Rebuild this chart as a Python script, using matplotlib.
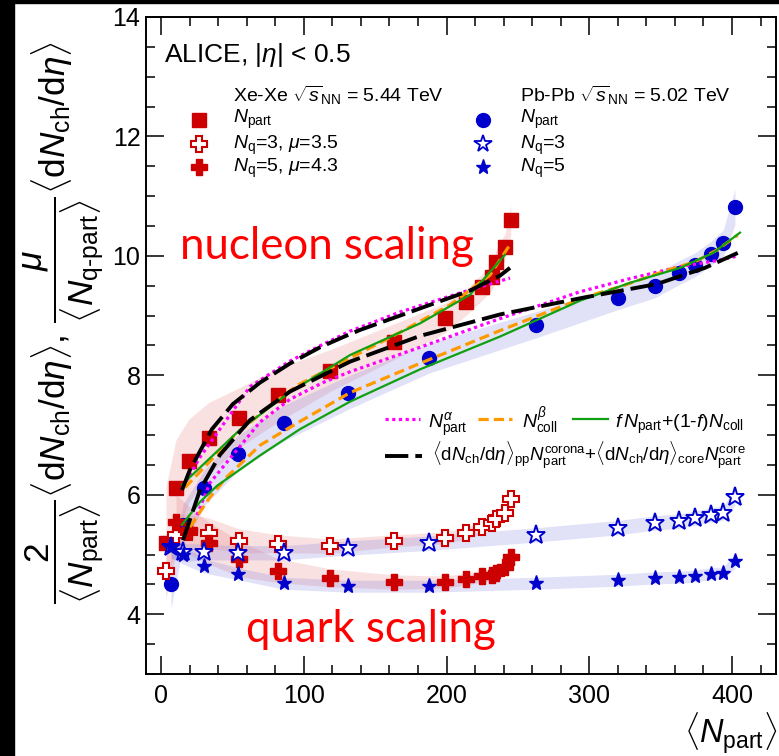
import matplotlib
matplotlib.use("Agg")
import matplotlib.pyplot as plt
from matplotlib.patches import Rectangle
from matplotlib.ticker import MultipleLocator

plt.rcParams['font.family'] = ['Liberation Sans', 'DejaVu Sans']
plt.rcParams['mathtext.fontset'] = 'custom'
plt.rcParams['mathtext.rm'] = 'Liberation Sans'
plt.rcParams['mathtext.it'] = 'Liberation Sans:italic'
plt.rcParams['mathtext.bf'] = 'Liberation Sans:bold'
plt.rcParams['mathtext.fallback'] = 'cm'

# ---------------- data ----------------
xe_npart = [3.5, 10.5, 19.6, 33.6, 54.6, 82, 118.5, 163, 199, 214, 225, 232, 235, 241, 245]
xe_nucl = [5.19, 6.12, 6.57, 6.95, 7.29, 7.67, 8.08, 8.56, 8.96, 9.23, 9.48, 9.65, 9.90, 10.15, 10.6]
xe_nucl_err = [0.95, 0.8, 0.7, 0.6, 0.5, 0.45, 0.35, 0.3, 0.25, 0.22, 0.22, 0.22, 0.22, 0.22, 0.25]
xe_q3 = [4.73, 5.33, 5.38, 5.36, 5.23, 5.18, 5.14, 5.23, 5.28, 5.36, 5.46, 5.53, 5.60, 5.70, 5.93]
xe_q3_err = [0.4, 0.35, 0.3, 0.25, 0.2, 0.15, 0.12, 0.1, 0.1, 0.1, 0.1, 0.1, 0.1, 0.1, 0.12]
xe_q5_npart = [10.5, 19.6, 33.6, 54.6, 82, 118.5, 163, 199, 214, 225, 232, 235, 241, 245]
xe_q5 = [5.55, 5.41, 5.19, 4.93, 4.73, 4.61, 4.54, 4.54, 4.59, 4.64, 4.66, 4.69, 4.79, 4.96]
xe_q5_err = [0.45, 0.4, 0.35, 0.3, 0.2, 0.15, 0.12, 0.1, 0.1, 0.1, 0.1, 0.1, 0.1, 0.12]

pb_npart = [7.0, 15.6, 30.4, 53.6, 86.0, 131, 188, 263, 320, 346, 363, 374, 385, 394, 402]
pb_nucl = [4.50, 5.50, 6.12, 6.69, 7.20, 7.71, 8.29, 8.85, 9.30, 9.50, 9.72, 9.85, 10.04, 10.22, 10.82]
pb_nucl_err = [0.4, 0.35, 0.3, 0.3, 0.3, 0.28, 0.25, 0.22, 0.2, 0.2, 0.2, 0.2, 0.2, 0.22, 0.3]
pb_q3 = [5.13, 5.04, 5.04, 5.03, 5.03, 5.11, 5.19, 5.33, 5.45, 5.53, 5.56, 5.61, 5.66, 5.70, 5.96]
pb_q3_err = [0.2, 0.15, 0.13, 0.12, 0.12, 0.12, 0.12, 0.12, 0.12, 0.12, 0.12, 0.12, 0.12, 0.12, 0.14]
pb_q5 = [5.15, 4.99, 4.81, 4.68, 4.52, 4.47, 4.47, 4.52, 4.57, 4.61, 4.62, 4.64, 4.68, 4.69, 4.89]
pb_q5_err = [0.2, 0.15, 0.12, 0.1, 0.1, 0.1, 0.1, 0.1, 0.1, 0.1, 0.1, 0.1, 0.1, 0.1, 0.12]

# model curves
xe_alpha_x = [15.4, 27.3, 62.3, 90.4, 113.5, 132.4, 167.4, 209.5, 244.5]
xe_alpha_y = [6.13, 6.63, 7.81, 8.24, 8.52, 8.74, 9.06, 9.38, 9.63]
xe_beta_x = [16.8, 50.4, 74.3, 95.3, 116.3, 132.4, 167.4, 202.5, 230.5, 244.5]
xe_beta_y = [6.12, 6.97, 7.45, 7.83, 8.09, 8.29, 8.72, 9.18, 9.68, 10.19]
xe_glau_x = [14.7, 55.3, 90.4, 132.4, 181.4, 216.5, 241.0]
xe_glau_y = [6.17, 7.09, 7.72, 8.34, 8.87, 9.35, 10.02]
xe_core_x = [14.7, 20.3, 35.7, 50.4, 69.4, 90.4, 111.4, 127.5, 139.4, 181.4, 216.5, 237.5, 244.5]
xe_core_y = [6.08, 6.42, 7.10, 7.52, 7.88, 8.20, 8.47, 8.64, 8.76, 9.12, 9.42, 9.67, 9.80]

pb_alpha_x = [25.2, 34.3, 53.2, 69.4, 90.4, 113.5, 132.4, 181.4, 237.5, 293.5, 328.5, 363.6, 391.6, 404.0]
pb_alpha_y = [5.66, 6.20, 6.75, 7.22, 7.60, 7.88, 8.06, 8.47, 8.95, 9.40, 9.62, 9.82, 9.93, 10.0]
pb_beta_x = [20.3, 34.3, 46.2, 69.4, 95.3, 113.5, 132.4, 181.4, 237.5, 298.4, 323.6, 354.5, 374.0, 389.5, 404.0]
pb_beta_y = [5.46, 5.96, 6.30, 6.83, 7.20, 7.45, 7.71, 8.20, 8.75, 9.32, 9.50, 9.76, 9.90, 10.10, 10.35]
pb_glau_x = [14.7, 27.3, 39.2, 69.4, 97.4, 132.4, 181.4, 237.5, 293.5, 328.5, 363.6, 386.7, 405.6]
pb_glau_y = [5.50, 5.88, 6.15, 6.66, 7.10, 7.56, 8.10, 8.65, 9.25, 9.55, 9.80, 10.05, 10.39]
pb_core_x = [15.4, 27.3, 41.3, 62.3, 90.4, 132.4, 181.4, 237.5, 295.6, 347.5, 381.0, 404.0]
pb_core_y = [5.24, 6.08, 6.67, 7.25, 7.73, 8.23, 8.66, 9.02, 9.30, 9.53, 9.80, 10.05]

# ---------------- styling ----------------
RED = '#cc0000'
BLUE = '#0000cc'
PINK_BAND = dict(color='#e87878', alpha=0.22, lw=0)
BLUE_BAND = dict(color='#7878e0', alpha=0.22, lw=0)
MAG = dict(color='#ff00ff', lw=2.3, ls=(0, (1, 1.1)), zorder=5)
ORA = dict(color='#ff9900', lw=2.3, ls=(0, (3.2, 1.6)), zorder=5)
GRN = dict(color='#10a010', lw=1.6, ls='-', zorder=5)
BLK = dict(color='black', lw=2.8, ls=(0, (6, 1.8)), zorder=6)

fig = plt.figure(figsize=(7.79, 7.56), dpi=100)
fig.patches.append(Rectangle((0, 0), 14 / 779, 1, transform=fig.transFigure, color='black', zorder=-10))
fig.patches.append(Rectangle((0, 1 - 3 / 756), 1, 3 / 756, transform=fig.transFigure, color='black', zorder=-10))

ax = fig.add_axes([146 / 779, 82 / 756, 630 / 779, 657 / 756])
ax.set_xlim(-10.5, 430.8)
ax.set_ylim(3, 14)


def band(x, y, e, style):
    lo = [a - b for a, b in zip(y, e)]
    hi = [a + b for a, b in zip(y, e)]
    ax.fill_between(x, lo, hi, zorder=1, **style)


band(xe_npart, xe_nucl, xe_nucl_err, PINK_BAND)
band(pb_npart, pb_nucl, pb_nucl_err, BLUE_BAND)
band(xe_npart, xe_q3, xe_q3_err, PINK_BAND)
band(xe_q5_npart, xe_q5, xe_q5_err, PINK_BAND)
band(pb_npart, pb_q3, pb_q3_err, BLUE_BAND)
band(pb_npart, pb_q5, pb_q5_err, BLUE_BAND)

# markers
ax.plot(xe_npart, xe_nucl, 's', color=RED, ms=10, mec=RED, zorder=4, ls='none')
ax.plot(pb_npart, pb_nucl, 'o', color=BLUE, ms=10, zorder=4, ls='none')
ax.plot(xe_npart, xe_q3, 'P', mfc='white', mec=RED, mew=1.5, ms=12, zorder=4, ls='none')
ax.plot(xe_q5_npart, xe_q5, 'P', color=RED, ms=11, zorder=4, ls='none')
ax.plot(pb_npart, pb_q3, '*', mfc='white', mec=BLUE, mew=1.4, ms=14, zorder=4, ls='none')
ax.plot(pb_npart, pb_q5, '*', color=BLUE, ms=11, zorder=4, ls='none')

# curves
ax.plot(xe_alpha_x, xe_alpha_y, **MAG)
ax.plot(pb_alpha_x, pb_alpha_y, **MAG)
ax.plot(xe_beta_x, xe_beta_y, **ORA)
ax.plot(pb_beta_x, pb_beta_y, **ORA)
ax.plot(xe_glau_x, xe_glau_y, **GRN)
ax.plot(pb_glau_x, pb_glau_y, **GRN)
ax.plot(xe_core_x, xe_core_y, **BLK)
ax.plot(pb_core_x, pb_core_y, **BLK)

# axes / ticks
ax.xaxis.set_major_locator(MultipleLocator(100))
ax.xaxis.set_minor_locator(MultipleLocator(20))
ax.yaxis.set_major_locator(MultipleLocator(2))
ax.yaxis.set_minor_locator(MultipleLocator(0.5))
ax.tick_params(which='both', direction='in', top=True, right=True, width=1.1, labelsize=18)
ax.tick_params(which='major', length=13)
ax.tick_params(which='minor', length=6.5)
ax.tick_params(axis='x', pad=7)
ax.tick_params(axis='y', pad=4)
for s in ax.spines.values():
    s.set_linewidth(1.4)

# texts
ax.text(0.0286, 0.9315, r'ALICE, $|\eta|$ < 0.5', transform=ax.transAxes, fontsize=19, va='baseline')
ax.text(0.138, 0.8706, r'Xe-Xe $\sqrt{s}_{\mathrm{NN}}$ = 5.44 TeV', transform=ax.transAxes, fontsize=14, va='baseline')
ax.text(0.5937, 0.8706, r'Pb-Pb $\sqrt{s}_{\mathrm{NN}}$ = 5.02 TeV', transform=ax.transAxes, fontsize=14, va='baseline')

rows_m = [0.8432, 0.8067, 0.7717]
rows_t = [0.8387, 0.7991, 0.7641]
ax.plot([0.0841], [rows_m[0]], 's', color=RED, ms=9.5, transform=ax.transAxes, clip_on=False)
ax.plot([0.0841], [rows_m[1]], 'P', mfc='white', mec=RED, mew=1.5, ms=11, transform=ax.transAxes, clip_on=False)
ax.plot([0.0841], [rows_m[2]], 'P', color=RED, ms=11, transform=ax.transAxes, clip_on=False)
ax.plot([0.535], [rows_m[0]], 'o', color=BLUE, ms=10, transform=ax.transAxes, clip_on=False)
ax.plot([0.535], [rows_m[1]], '*', mfc='white', mec=BLUE, mew=1.3, ms=13, transform=ax.transAxes, clip_on=False)
ax.plot([0.535], [rows_m[2]], '*', color=BLUE, ms=11, transform=ax.transAxes, clip_on=False)
ax.text(0.138, rows_t[0], r'$N_{\mathrm{part}}$', transform=ax.transAxes, fontsize=14, va='baseline')
ax.text(0.138, rows_t[1], r'$N_{\mathrm{q}}$=3, $\mu$=3.5', transform=ax.transAxes, fontsize=14, va='baseline')
ax.text(0.138, rows_t[2], r'$N_{\mathrm{q}}$=5, $\mu$=4.3', transform=ax.transAxes, fontsize=14, va='baseline')
ax.text(0.5937, rows_t[0], r'$N_{\mathrm{part}}$', transform=ax.transAxes, fontsize=14, va='baseline')
ax.text(0.5937, rows_t[1], r'$N_{\mathrm{q}}$=3', transform=ax.transAxes, fontsize=14, va='baseline')
ax.text(0.5937, rows_t[2], r'$N_{\mathrm{q}}$=5', transform=ax.transAxes, fontsize=14, va='baseline')

# model legend
ax.plot([0.379, 0.435], [0.388, 0.388], transform=ax.transAxes, **MAG)
ax.plot([0.527, 0.581], [0.388, 0.388], transform=ax.transAxes, **ORA)
ax.plot([0.678, 0.733], [0.388, 0.388], transform=ax.transAxes, **GRN)
ax.plot([0.379, 0.438], [0.332, 0.332], transform=ax.transAxes, **BLK)
ax.text(0.4476, 0.3744, r'$N_{\mathrm{part}}^{\alpha}$', transform=ax.transAxes, fontsize=14, va='baseline')
ax.text(0.597, 0.3744, r'$N_{\mathrm{coll}}^{\beta}$', transform=ax.transAxes, fontsize=14, va='baseline')
ax.text(0.744, 0.3744, r'$f\,N_{\mathrm{part}}$+(1-$f$)$N_{\mathrm{coll}}$', transform=ax.transAxes, fontsize=14, va='baseline')
ax.text(0.454, 0.324,
        r'$\langle\mathrm{d}N_{\mathrm{ch}}/\mathrm{d}\eta\rangle_{\mathrm{pp}}N_{\mathrm{part}}^{\mathrm{corona}}$+'
        r'$\langle\mathrm{d}N_{\mathrm{ch}}/\mathrm{d}\eta\rangle_{\mathrm{core}}N_{\mathrm{part}}^{\mathrm{core}}$',
        transform=ax.transAxes, fontsize=13.5, va='baseline')

ax.text(13.3, 9.95, 'nucleon scaling', color='#ff0000', fontsize=31.5, family=['Lato', 'DejaVu Sans'], va='baseline')
ax.text(59.5, 3.54, 'quark scaling', color='#ff0000', fontsize=31.5, family=['Lato', 'DejaVu Sans'], va='baseline')

# axis titles
fig.text(64 / 779, 0.5728,
         r'$\dfrac{2}{\langle N_{\mathrm{part}}\rangle}\langle\mathrm{d}N_{\mathrm{ch}}/\mathrm{d}\eta\rangle,'
         r'\,\dfrac{\mu}{\langle N_{\mathrm{q}\text{-}\mathrm{part}}\rangle}\langle\mathrm{d}N_{\mathrm{ch}}/\mathrm{d}\eta\rangle$',
         rotation=90, ha='center', va='center', fontsize=25.4)
fig.text(777 / 779, 0.0, r'$\langle N_{\mathrm{part}}\rangle$', ha='right', va='bottom', fontsize=23.5)

fig.savefig('out.png', dpi=100)
